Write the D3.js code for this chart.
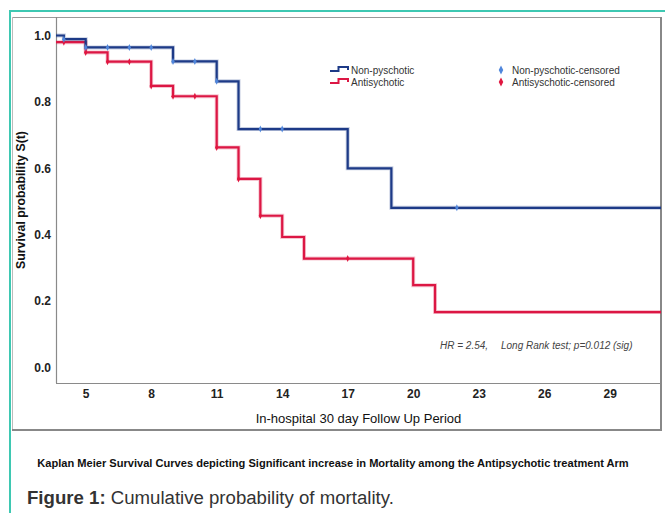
<!DOCTYPE html>
<html><head><meta charset="utf-8">
<script src="https://cdn.jsdelivr.net/npm/d3@7"></script>
<style>
body{margin:0;background:#fff;}
svg{display:block;}
text{font-family:"Liberation Sans",Arial,sans-serif;}
</style></head>
<body>
<svg id="c" width="665" height="513"></svg>
<script>
// ---- data ----
const xTicks = [5, 8, 11, 14, 17, 20, 23, 26, 29];
const yTicks = [0.0, 0.2, 0.4, 0.6, 0.8, 1.0];
const seriesNames = ["Non-pyschotic", "Antisychotic"];
const censorNames = ["Non-pyschotic-censored", "Antisyschotic-censored"];
// step functions: event times and survival after each event
const nonPsyTimes = [0, 4, 5, 9, 11, 12, 17, 19, 33];
const nonPsySurv  = [1.0, 0.989, 0.964, 0.922, 0.862, 0.718, 0.600, 0.481, 0.481];
const antiTimes = [0, 3, 5, 6, 8, 9, 11, 12, 13, 14, 15, 20, 21, 33];
const antiSurv  = [1.0, 0.980, 0.949, 0.921, 0.848, 0.817, 0.663, 0.568, 0.457, 0.393, 0.328, 0.248, 0.167, 0.167];
const nonPsyCensor = [4, 5, 6, 7, 8, 9, 10, 11, 13, 14, 22];
const antiCensor   = [4, 5, 6, 7, 8, 9, 10, 11, 12, 13, 17];
const hrText = "HR = 2.54,";
const lrText = "Long Rank test; p=0.012 (sig)";
const xTitle = "In-hospital 30 day Follow Up Period";
const yTitle = "Survival probability S(t)";
const caption = "Kaplan Meier Survival Curves depicting Significant increase in Mortality among the Antipsychotic treatment Arm";
const figLabel = "Figure 1:";
const figText = " Cumulative probability of mortality.";

// ---- layout ----
const svg = d3.select("#c");
const L = 56, R = 661, T = 17, B = 383;
const x = d3.scaleLinear().domain([3.64, 31.35]).range([L, R]);
const y = d3.scaleLinear().domain([-0.0467, 1.0557]).range([B, T]);

const blue = "#1d3a87", red = "#dc1744";
const blueC = "#4f86dc", redC = "#e0163f";

function fitWidth(sel, base, target){
  const w = sel.node().getComputedTextLength();
  sel.attr("font-size", base * target / w);
}

// teal frame
svg.append("line").attr("x1",10).attr("x2",665).attr("y1",11).attr("y2",11).attr("stroke","#3ec8b2").attr("stroke-width",2);
svg.append("line").attr("x1",10).attr("x2",10).attr("y1",10).attr("y2",513).attr("stroke","#3ec8b2").attr("stroke-width",2);

// chart box
svg.append("line").attr("x1",12).attr("x2",661).attr("y1",17.5).attr("y2",17.5).attr("stroke","#999").attr("stroke-width",1);
svg.append("line").attr("x1",12.5).attr("x2",12.5).attr("y1",17).attr("y2",430).attr("stroke","#bbb").attr("stroke-width",1);
svg.append("line").attr("x1",661).attr("x2",661).attr("y1",17).attr("y2",431).attr("stroke","#888").attr("stroke-width",2);
svg.append("line").attr("x1",12).attr("x2",662).attr("y1",430).attr("y2",430).attr("stroke","#888").attr("stroke-width",2);

// axes
const gx = svg.append("g").attr("transform",`translate(0,${B})`)
  .call(d3.axisBottom(x).tickValues(xTicks).tickSize(0).tickPadding(6).tickFormat(d3.format("d")));
const gy = svg.append("g").attr("transform",`translate(${L},0)`)
  .call(d3.axisLeft(y).tickValues(yTicks).tickSize(0).tickPadding(5).tickFormat(d3.format(".1f")));
[gx, gy].forEach(g => {
  g.select(".domain").attr("stroke","#8a8a8a").attr("stroke-width",1.2);
  g.selectAll("text").attr("font-family","'Liberation Sans Narrow','Arial Narrow','Liberation Sans',sans-serif")
    .attr("font-weight","bold").attr("font-size",12).attr("fill","#222");
});
gx.select(".domain").attr("d",`M${L},0.5H${R}`);
gy.select(".domain").attr("d",`M0.5,${T}V${B}`);

// clip
svg.append("clipPath").attr("id","clip").append("rect").attr("x",L).attr("y",T).attr("width",R-L).attr("height",B-T);

function stepPts(times, surv){ return times.map((t,i)=>[t, surv[i]]); }
const line = d3.line().x(d=>x(d[0])).y(d=>y(d[1])).curve(d3.curveStepAfter);
function survAt(times, surv, t){ let v = surv[0]; times.forEach((tt,i)=>{ if (tt<=t) v = surv[i]; }); return v; }

const plot = svg.append("g").attr("clip-path","url(#clip)");
[[antiTimes, antiSurv, red],[nonPsyTimes, nonPsySurv, blue]].forEach(([ts, ss, col])=>{
  plot.append("path").datum(stepPts(ts, ss)).attr("d", line).attr("fill","none")
    .attr("stroke", col).attr("stroke-opacity",0.25).attr("stroke-width",4);
  plot.append("path").datum(stepPts(ts, ss)).attr("d", line).attr("fill","none")
    .attr("stroke", col).attr("stroke-width",2.2);
});

const diamond = (cx, cy, w, h) => `M${cx},${cy-h/2}L${cx+w/2},${cy}L${cx},${cy+h/2}L${cx-w/2},${cy}Z`;
[[antiCensor, antiTimes, antiSurv, redC],[nonPsyCensor, nonPsyTimes, nonPsySurv, blueC]].forEach(([cs, ts, ss, col])=>{
  plot.selectAll(null).data(cs).enter().append("path")
    .attr("d", t => diamond(x(t), y(survAt(ts, ss, t)), 3.2, 7))
    .attr("fill", col);
});

// legend
const leg = svg.append("g");
[[blue, 70, seriesNames[0]],[red, 82, seriesNames[1]]].forEach(([col, ly, name])=>{
  leg.append("path").attr("d",`M330,${ly+1}H338.5V${ly-3}H348V${ly}`).attr("fill","none").attr("stroke",col).attr("stroke-width",2);
  leg.append("text").attr("x",351).attr("y",ly+3.5).attr("font-size",10).attr("fill","#333").text(name);
});
[[blueC, 70, censorNames[0]],[redC, 82, censorNames[1]]].forEach(([col, ly, name])=>{
  leg.append("path").attr("d", diamond(501, ly, 4.5, 9)).attr("fill", col);
  leg.append("text").attr("x",512).attr("y",ly+3.5).attr("font-size",10).attr("fill","#333").text(name);
});

// annotation
svg.append("text").attr("x",440).attr("y",349).attr("font-size",10).attr("font-style","italic").attr("fill","#444").text(hrText);
svg.append("text").attr("x",501).attr("y",349).attr("font-size",10).attr("font-style","italic").attr("fill","#444").text(lrText);

// titles
const xt = svg.append("text").attr("x",(L+R)/2).attr("y",423).attr("text-anchor","middle").attr("font-size",12).attr("fill","#111").text(xTitle);
fitWidth(xt, 12, 206);
const yt = svg.append("text").attr("transform",`translate(25,${(T+B)/2}) rotate(-90)`).attr("text-anchor","middle")
  .attr("font-size",12).attr("font-weight","bold").attr("fill","#111").text(yTitle);
fitWidth(yt, 12, 138);

// caption
const cap = svg.append("text").attr("x",333).attr("y",467).attr("text-anchor","middle")
  .attr("font-size",10).attr("font-weight","bold").attr("fill","#111").text(caption);
fitWidth(cap, 10, 592);

const fig = svg.append("text").attr("x",27).attr("y",504).attr("font-size",17).attr("fill","#333");
fig.append("tspan").attr("font-weight","bold").text(figLabel);
fig.append("tspan").text(figText);
fitWidth(fig, 17, 367);
</script>
</body></html>
